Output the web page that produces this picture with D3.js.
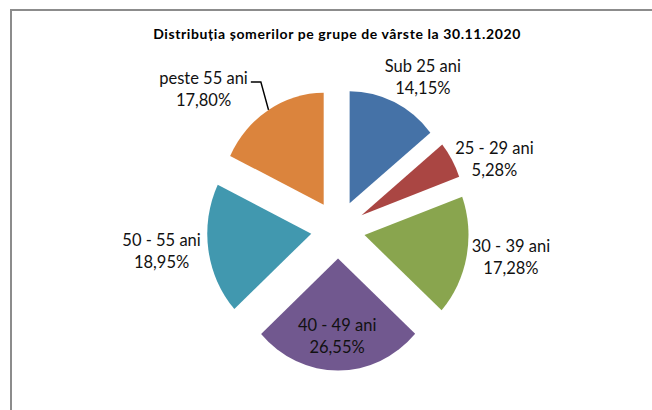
<!DOCTYPE html>
<html>
<head>
<meta charset="utf-8">
<script src="https://cdn.jsdelivr.net/npm/d3@7"></script>
<style>
  html, body { margin: 0; padding: 0; background: #fff; }
  svg { display: block; font-family: Lato, "Open Sans", sans-serif; }
</style>
</head>
<body>
<div id="chart"></div>
<script>
// age groups and their share (%) of unemployed people, 30.11.2020
const categories = ["Sub 25 ani", "25 - 29 ani", "30 - 39 ani", "40 - 49 ani", "50 - 55 ani", "peste 55 ani"];
const shares = [14.15, 5.28, 17.28, 26.55, 18.95, 17.80];
const palette = ["#4572A7", "#AA4643", "#89A54E", "#71588F", "#4198AF", "#DB843D"];
const title = "Distribuția șomerilor pe grupe de vârste la 30.11.2020";

const width = 652, height = 410;
const cx = 338, cy = 229.5;   // pie centre
const r = 104;                // radius (x)
const sy = 1.077;             // the original picture is stretched vertically
const explode = 27;
const pad = 5;

// where each label sits: "out" = outside end, "in" = inside, "leader" = moved with a leader line
const labelMode = ["out", "out", "out", "in", "out", "leader"];
// small hand nudges, the way the source chart had them dragged
const labelNudge = [[10, -3], [4, 11], [1, -4], [-1, 1], [-3, -2], [0, 3]];

const data = categories.map((name, i) => ({ name, value: shares[i] }));

const color = d3.scaleOrdinal().domain(categories).range(palette);
const fmt = v => v.toFixed(2).replace(".", ",") + "%";

const svg = d3.select("#chart").append("svg")
    .attr("width", width)
    .attr("height", height);

svg.append("rect").attr("width", width).attr("height", height).attr("fill", "#fff");

// chart area border (runs off the right and bottom of the picture)
svg.append("rect")
    .attr("x", 11).attr("y", 10)
    .attr("width", 700).attr("height", 500)
    .attr("fill", "none")
    .attr("stroke", "#8c8c8c")
    .attr("stroke-width", 2);

svg.append("text")
    .attr("x", cx - 1).attr("y", 33.5)
    .attr("text-anchor", "middle")
    .attr("dominant-baseline", "central")
    .attr("font-weight", "bold")
    .attr("font-size", 14)
    .attr("letter-spacing", 0.6)
    .attr("fill", "#000")
    .text(title);

const pie = d3.pie().sort(null).value(d => d.value);
const arc = d3.arc().innerRadius(0).outerRadius(r);
const arcs = pie(data);

const mid = d => (d.startAngle + d.endAngle) / 2;

const g = svg.append("g")
    .attr("transform", `translate(${cx},${cy}) scale(1,${sy})`);

g.selectAll("path")
    .data(arcs)
    .join("path")
    .attr("transform", d => `translate(${explode * Math.sin(mid(d))},${-explode * Math.cos(mid(d))})`)
    .attr("d", arc)
    .attr("fill", d => color(d.data.name));

// labels
const lineH = 22;
const labels = svg.append("g")
    .attr("font-size", 16.5)
    .attr("fill", "#111");

arcs.forEach((d, i) => {
    const a = mid(d);
    const s = Math.sin(a), c = Math.cos(a);
    const t = labels.append("text").attr("text-anchor", "middle");
    const l1 = t.append("tspan").text(d.data.name);
    const l2 = t.append("tspan").text(fmt(d.data.value));
    const w = Math.max(l1.node().getComputedTextLength(), l2.node().getComputedTextLength());
    const h = 2 * lineH - 4;

    // outer point on the exploded slice, along its bisector
    const px = cx + (explode + r) * s;
    const py = cy - (explode + r) * c * sy;
    let lx, ly;
    if (labelMode[i] === "in") {
        const rr = explode + r * 0.68;
        lx = cx + rr * s;
        ly = cy - rr * c * sy;
    } else if (labelMode[i] === "leader") {
        // pulled up and left of the slice, joined back with a bent line
        lx = px - 65;
        ly = py - 24;
    } else {
        lx = px + s * (w / 2 + pad);
        ly = py - c * (h / 2 + pad);
    }
    lx += labelNudge[i][0];
    ly += labelNudge[i][1];

    l1.attr("x", lx).attr("y", ly - lineH / 2).attr("dominant-baseline", "central");
    l2.attr("x", lx).attr("y", ly + lineH / 2).attr("dominant-baseline", "central");

    if (labelMode[i] === "leader") {
        const ex = lx + l1.node().getComputedTextLength() / 2 + 3;
        const ey = ly - lineH / 2 + 4;
        svg.append("path")
            .attr("d", d3.line()([[ex, ey], [ex + 10, ey], [px, py]]))
            .attr("fill", "none")
            .attr("stroke", "#000")
            .attr("stroke-width", 1.5);
    }
});
</script>
</body>
</html>
